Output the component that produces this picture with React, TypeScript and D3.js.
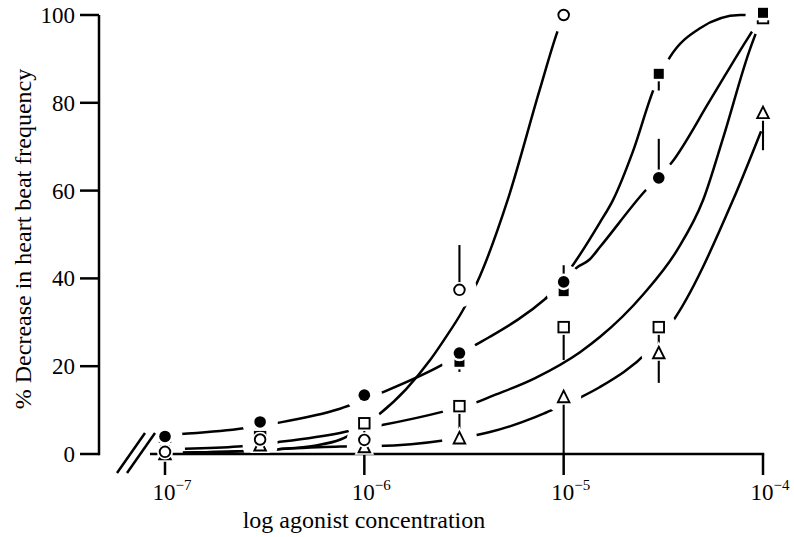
import React from 'react';
import * as d3 from 'd3';

// ---- data ----
const concentrations = [1e-7, 3e-7, 1e-6, 3e-6, 1e-5, 3e-5, 1e-4];

// mean % decrease per concentration (null = not plotted / hidden)
const openCircle: (number | null)[] = [0.5, 3.3, 3.2, 37.4, 100, null, null];
const filledCircle: (number | null)[] = [4, 7.3, 13.4, 23, 39.2, 62.9, null];
const filledSquare: (number | null)[] = [0.8, 7, 13.2, 21, 37.1, 86.6, 100.5];
const openSquare: (number | null)[] = [2.3, 3.9, 7, 10.9, 28.9, 28.9, 99.3];
const openTriangle: (number | null)[] = [0, 2, 1.6, 3.6, 13, 23, 77.7];

// error-bar end value per point (null = none)
const openCircleErr: (number | null)[] = [null, null, null, 47.6, null, null, null];
const filledCircleErr: (number | null)[] = [null, null, null, null, 43, 71.8, null];
const filledSquareErr: (number | null)[] = [null, null, null, 18.7, null, 82.8, null];
const openSquareErr: (number | null)[] = [null, null, 3.5, 5.5, 21.4, 24.5, null];
const openTriangleErr: (number | null)[] = [null, null, null, null, 0, 16.2, 69.2];

// fitted curves: [log10 concentration, % decrease]
const curveOpenCircle: [number, number][] = [
  [-6.93, 0.3], [-6.63, 0.6], [-6.43, 1.1], [-6.25, 1.9], [-6.12, 3.3], [-5.93, 8.9],
  [-5.79, 14.8], [-5.67, 21.4], [-5.6, 26], [-5.505, 32.8], [-5.435, 39], [-5.28, 58],
  [-5.12, 83], [-5.033, 96], [-5, 100],
];
const curveFilledCircle: [number, number][] = [
  [-6.935, 4.5], [-6.634, 5.7], [-6.433, 7.1], [-6.122, 10.3], [-5.906, 14.1], [-5.61, 20.3],
  [-5.444, 24.8], [-5.37, 26.7], [-5.093, 35.3], [-4.93, 42.6], [-4.87, 44.3], [-4.817, 47.2],
  [-4.6, 59.5], [-4.456, 66.5], [-4.265, 80.6], [-4.075, 94.8], [-4, 100],
];
const curveFilledSquare: [number, number][] = [
  [-5.093, 35.3], [-4.97, 42], [-4.82, 52.6], [-4.752, 57.9], [-4.652, 69], [-4.545, 83.5],
  [-4.467, 90.4], [-4.316, 97], [-4.115, 100], [-4, 100],
];
const curveOpenSquare: [number, number][] = [
  [-6.9, 1.2], [-6.634, 1.7], [-6.433, 2.7], [-6.122, 4.8], [-6.07, 5.3], [-5.911, 6.6],
  [-5.61, 9.6], [-5.435, 11.8], [-5.37, 13], [-5.143, 17.3], [-4.918, 23.2], [-4.817, 26.7],
  [-4.6, 36.4], [-4.43, 46.5], [-4.3, 57.9], [-4.2, 72], [-4.07, 91.6], [-4, 100],
];
const curveOpenTriangle: [number, number][] = [
  [-6.93, 0.3], [-6.63, 0.6], [-6.43, 1.1], [-6.12, 1.7], [-5.936, 1.8], [-5.585, 3.2],
  [-5.43, 4.4], [-5.37, 5], [-5.143, 8.4], [-5.09, 9.4], [-4.92, 12.8], [-4.82, 15.2],
  [-4.577, 23.4], [-4.456, 30], [-4.15, 57.9], [-4.01, 73.5],
];

const yTicks = [0, 20, 40, 60, 80, 100];
const xTicks = [1e-7, 1e-6, 1e-5, 1e-4];
const xTickExponents = ['−7', '−6', '−5', '−4'];
const yTitle = '% Decrease in heart beat frequency';
const xTitle = 'log agonist concentration';

// ---- layout ----
const W = 794;
const H = 537;
const xScale = d3.scaleLog().domain([1e-7, 1e-4]).range([165, 763]);
const yScale = d3.scaleLinear().domain([0, 100]).range([454, 15]);
const AXIS_X = 99;
const FONT = '"Liberation Serif", "Times New Roman", serif';

type Kind = 'oc' | 'fc' | 'os' | 'fs' | 'ot';
const series: { kind: Kind; values: (number | null)[]; err: (number | null)[] }[] = [
  { kind: 'os', values: openSquare, err: openSquareErr },
  { kind: 'fs', values: filledSquare, err: filledSquareErr },
  { kind: 'ot', values: openTriangle, err: openTriangleErr },
  { kind: 'oc', values: openCircle, err: openCircleErr },
  { kind: 'fc', values: filledCircle, err: filledCircleErr },
];
const curves = [curveOpenCircle, curveFilledCircle, curveFilledSquare, curveOpenSquare, curveOpenTriangle];

const line = d3
  .line<[number, number]>()
  .x((d) => xScale(Math.pow(10, d[0])))
  .y((d) => yScale(d[1]))
  .curve(d3.curveMonotoneX);

function Marker({ kind, x, y, halo }: { kind: Kind; x: number; y: number; halo?: boolean }) {
  const filled = kind === 'fc' || kind === 'fs';
  const fill = halo ? 'white' : filled ? 'black' : 'white';
  const stroke = halo ? 'white' : 'black';
  const sw = halo ? 5 : 1.9;
  if (kind === 'oc' || kind === 'fc') {
    const r = kind === 'oc' ? 5.3 : 5.8;
    return <circle cx={x} cy={y} r={r} fill={fill} stroke={stroke} strokeWidth={filled && !halo ? 0 : sw} />;
  }
  if (kind === 'os' || kind === 'fs') {
    const s = kind === 'os' ? 10.5 : 10;
    return (
      <rect x={x - s / 2} y={y - s / 2} width={s} height={s} fill={fill} stroke={stroke}
        strokeWidth={filled && !halo ? 0 : sw} />
    );
  }
  const w = 11.5;
  const h = 10.5;
  const pts = `${x},${y - h / 2 - 1} ${x + w / 2},${y + h / 2} ${x - w / 2},${y + h / 2}`;
  return <polygon points={pts} fill={fill} stroke={stroke} strokeWidth={sw} strokeLinejoin="miter" />;
}

export default function App() {
  const pts: { kind: Kind; x: number; y: number; err: number | null }[] = [];
  series.forEach((s) => {
    s.values.forEach((v, i) => {
      if (v === null) return;
      pts.push({ kind: s.kind, x: xScale(concentrations[i]), y: yScale(v), err: s.err[i] });
    });
  });

  return (
    <svg width={W} height={H} style={{ position: 'absolute', left: 0, top: 0, background: 'white' }}
      fontFamily={FONT}>
      <rect x={0} y={0} width={W} height={H} fill="white" />
      {/* fitted curves */}
      <g fill="none" stroke="black" strokeWidth={2.5}>
        {curves.map((c, i) => (
          <path key={i} d={line(c) || ''} />
        ))}
      </g>
      {/* gaps of the curves around the data points */}
      <g fill="white">
        {pts.map((p, i) => (
          <circle key={i} cx={p.x} cy={p.y} r={17.5} />
        ))}
      </g>
      {/* error bars */}
      <g stroke="black" strokeWidth={2.1}>
        {pts.filter((p) => p.err !== null).map((p, i) => (
          <line key={i} x1={p.x} x2={p.x} y1={p.y} y2={yScale(p.err as number)} />
        ))}
      </g>
      {/* axes */}
      <g stroke="black" strokeWidth={2.5} fill="none">
        <line x1={AXIS_X} x2={AXIS_X} y1={yScale(100)} y2={yScale(0) + 1.2} />
        {yTicks.map((t) => (
          <line key={t} x1={AXIS_X - 19} x2={AXIS_X} y1={yScale(t)} y2={yScale(t)} />
        ))}
        <line x1={150} x2={xScale(1e-4) + 1.2} y1={yScale(0)} y2={yScale(0)} />
        {xTicks.map((t) => (
          <line key={t} x1={xScale(t)} x2={xScale(t)} y1={yScale(0)} y2={yScale(0) + 21} />
        ))}
        <line x1={117} y1={473} x2={145} y2={433} />
        <line x1={127} y1={473} x2={155} y2={433} />
      </g>
      {/* markers: halo ring then marker */}
      {pts.map((p, i) => (
        <g key={i}>
          <Marker kind={p.kind} x={p.x} y={p.y} halo />
          <Marker kind={p.kind} x={p.x} y={p.y} />
        </g>
      ))}
      {/* tick labels */}
      <g fontSize={23} fill="black" textAnchor="end">
        {yTicks.map((t) => (
          <text key={t} x={AXIS_X - 24} y={yScale(t) + 8}>
            {t}
          </text>
        ))}
      </g>
      <g fill="black" textAnchor="middle">
        {xTicks.map((t, i) => (
          <text key={t} x={xScale(t) + 7} y={500} fontSize={23}>
            10
            <tspan fontSize={15} dy={-10}>
              {xTickExponents[i]}
            </tspan>
          </text>
        ))}
      </g>
      <text x={364} y={528} fontSize={24} textAnchor="middle" fill="black">
        {xTitle}
      </text>
      <text transform="translate(31,239) rotate(-90)" fontSize={24} textAnchor="middle" fill="black">
        {yTitle}
      </text>
    </svg>
  );
}
